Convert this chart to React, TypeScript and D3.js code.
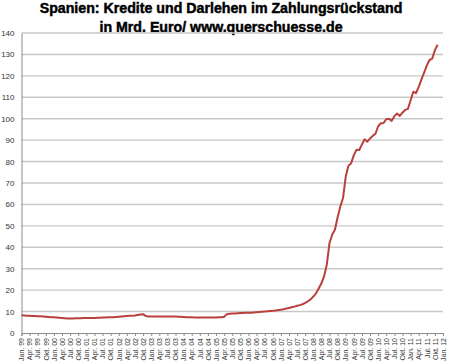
import * as d3 from 'd3';
import { useEffect, useRef } from 'react';

// Monthly values, Jan 99 .. Nov 11 (Mrd. Euro)
const values1999 = [8.3, 8.2, 8.1, 8.0, 7.9, 7.9, 7.8, 7.8, 7.7, 7.6, 7.5, 7.4];
const values2000 = [7.3, 7.2, 7.1, 7.0, 6.9, 6.8, 6.8, 6.8, 6.9, 6.9, 6.9, 7.0];
const values2001 = [7.0, 7.0, 7.0, 7.0, 7.1, 7.1, 7.2, 7.2, 7.3, 7.3, 7.4, 7.5];
const values2002 = [7.6, 7.7, 7.8, 7.9, 8.0, 8.1, 8.2, 8.4, 8.6, 8.8, 7.9, 7.7];
const values2003 = [7.7, 7.7, 7.7, 7.7, 7.7, 7.7, 7.7, 7.7, 7.7, 7.7, 7.6, 7.6];
const values2004 = [7.5, 7.4, 7.3, 7.3, 7.2, 7.2, 7.2, 7.2, 7.2, 7.2, 7.2, 7.2];
const values2005 = [7.2, 7.3, 7.4, 7.6, 8.8, 9.0, 9.1, 9.1, 9.2, 9.3, 9.3, 9.4];
const values2006 = [9.5, 9.5, 9.6, 9.7, 9.8, 9.9, 10.0, 10.1, 10.3, 10.4, 10.5, 10.7];
const values2007 = [10.9, 11.1, 11.4, 11.7, 12.0, 12.3, 12.7, 13.0, 13.4, 14.1, 14.8, 15.7];
const values2008 = [17.0, 18.5, 20.8, 23.2, 26.5, 32.0, 42.0, 46.0, 48.2, 54.0, 59.0, 63.0];
const values2009 = [73.0, 78.0, 79.2, 83.0, 85.5, 85.4, 88.0, 90.4, 89.3, 90.8, 92.0, 93.0];
const values2010 = [96.5, 97.9, 98.0, 99.8, 100.0, 99.0, 101.2, 102.4, 101.3, 102.8, 104.1, 104.6];
const values2011 = [108.5, 112.6, 111.9, 114.8, 118.2, 121.5, 124.8, 127.4, 128.0, 132.0, 134.5];

const series = [
  ...values1999, ...values2000, ...values2001, ...values2002, ...values2003,
  ...values2004, ...values2005, ...values2006, ...values2007, ...values2008,
  ...values2009, ...values2010, ...values2011,
];

const quarterNames = ['Jan.', 'Apr.', 'Jul.', 'Okt.'];
const years = ['99', '00', '01', '02', '03', '04', '05', '06', '07', '08', '09', '10', '11', '12'];
const yTicks = [0, 10, 20, 30, 40, 50, 60, 70, 80, 90, 100, 110, 120, 130, 140];

const titleLines = [
  'Spanien: Kredite und Darlehen im Zahlungsrückstand',
  'in Mrd. Euro/  www.querschuesse.de',
];

export default function App() {
  const ref = useRef<SVGSVGElement | null>(null);

  useEffect(() => {
    if (!ref.current) return;
    const svg = d3.select(ref.current);
    svg.selectAll('*').remove();

    const width = 450;
    const height = 364;
    const left = 21.5;
    const right = 443;
    const top = 33;
    const bottom = 333;
    const totalMonths = (years.length - 1) * 12; // Jan 99 .. Jan 12

    const x = d3.scaleLinear().domain([0, totalMonths]).range([left, right]);
    const y = d3.scaleLinear().domain([0, 140]).range([bottom, top]);

    svg.attr('width', width).attr('height', height);
    svg.append('rect').attr('width', width).attr('height', height).attr('fill', '#fff');

    // Title
    titleLines.forEach((t, i) => {
      svg
        .append('text')
        .attr('x', 221)
        .attr('y', 12.5 + i * 19)
        .attr('text-anchor', 'middle')
        .style('font-family', '"Liberation Sans", Arial, sans-serif')
        .style('font-weight', 'bold')
        .style('font-size', '14.2px')
        .attr('fill', '#000')
        .attr('stroke', '#000')
        .attr('stroke-width', 0.45)
        .text(t);
    });

    // Gridlines
    svg
      .append('g')
      .selectAll('line')
      .data(yTicks.filter((d) => d > 0))
      .enter()
      .append('line')
      .attr('x1', left)
      .attr('x2', right)
      .attr('y1', (d) => y(d))
      .attr('y2', (d) => y(d))
      .attr('stroke', '#c8c8c8')
      .attr('stroke-width', 1.4);

    // Y axis
    const yAxis = svg
      .append('g')
      .attr('transform', `translate(${left},0)`)
      .call(d3.axisLeft(y).tickValues(yTicks).tickSize(0).tickPadding(7));
    yAxis.select('.domain').attr('stroke', '#8c8c8c');
    yAxis
      .selectAll('text')
      .style('font-family', '"Liberation Sans", Arial, sans-serif')
      .style('font-size', '8px')
      .attr('fill', '#333');

    // X axis
    const tickMonths = d3.range(0, totalMonths + 1, 3);
    const labelFor = (m: number) => `${quarterNames[(m / 3) % 4]} ${years[Math.floor(m / 12)]}`;
    const xAxis = svg
      .append('g')
      .attr('transform', `translate(0,${bottom})`)
      .call(
        d3
          .axisBottom(x)
          .tickValues(tickMonths)
          .tickSize(3)
          .tickFormat((d) => labelFor(d as number))
      );
    xAxis.select('.domain').attr('stroke', '#8c8c8c');
    xAxis.selectAll('line').attr('stroke', '#8c8c8c');
    xAxis
      .selectAll('text')
      .style('font-family', '"Liberation Sans", Arial, sans-serif')
      .style('font-size', '7px')
      .attr('fill', '#333')
      .attr('text-anchor', 'end')
      .attr('transform', 'rotate(-90)')
      .attr('x', -5)
      .attr('y', 0)
      .attr('dy', '0.32em');

    // Line
    const line = d3
      .line<number>()
      .x((_, i) => x(i))
      .y((d) => y(d));
    svg
      .append('path')
      .datum(series)
      .attr('d', line)
      .attr('fill', 'none')
      .attr('stroke', '#b9403d')
      .attr('stroke-width', 2)
      .attr('stroke-linejoin', 'round');
  }, []);

  return (
    <svg
      ref={ref}
      style={{ position: 'absolute', left: 0, top: 0, display: 'block' }}
      role="img"
      aria-label="Spanien Kredite im Zahlungsrückstand"
    />
  );
}
